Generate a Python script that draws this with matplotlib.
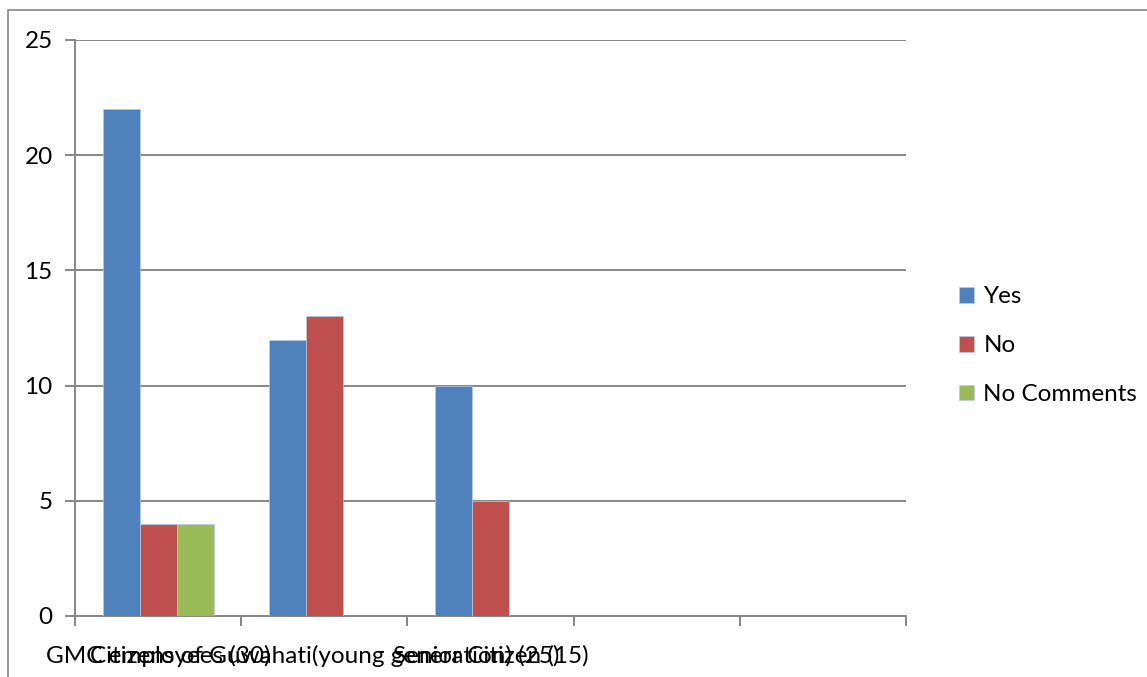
import matplotlib.pyplot as plt
import numpy as np
from matplotlib.patches import Rectangle

categories = [
    "GMC employees (30)",
    "Citizens of Guwahati(young generation) (25)",
    "Senior Citizen (15)",
    "",
    "",
]
yes = [22, 12, 10, 0, 0]
no = [4, 13, 5, 0, 0]
no_comments = [4, 0, 0, 0, 0]

series = [("Yes", yes, "#4f81bd"), ("No", no, "#c0504d"), ("No Comments", no_comments, "#9bbb59")]

plt.rcParams.update({"font.family": ["Lato", "DejaVu Sans"], "font.size": 17.5})

W, H = 1147, 677
fig = plt.figure(figsize=(W / 100, H / 100), dpi=100)
ax = fig.add_axes([75 / W, 61 / H, 831 / W, 576 / H])

# chart frame around the whole drawing area
fig.add_artist(Rectangle((8 / W, -0.1), 1.2, (H - 10) / H + 0.1, transform=fig.transFigure,
                         fill=False, edgecolor="#868686", linewidth=1.2))

grid_color = "#868686"
x = np.arange(len(categories))
width = 1 / 4.5
for idx, (label, values, color) in enumerate(series):
    ax.bar(x + (idx - 1) * width, values, width, color=color, edgecolor="#b8cce4",
           linewidth=0.5, label=label, zorder=3)

ax.set_xlim(-0.5, len(categories) - 0.5)
ax.set_ylim(0, 25)
ax.set_yticks(range(0, 26, 5))
ax.yaxis.grid(True, color=grid_color, linewidth=1.4, zorder=0)
ax.set_axisbelow(True)

for side in ["top", "right"]:
    ax.spines[side].set_visible(False)
for side in ["left", "bottom"]:
    ax.spines[side].set_color(grid_color)
    ax.spines[side].set_linewidth(1.4)

ax.set_xticks(np.arange(-0.5, len(categories)))
ax.set_xticklabels([])
ax.tick_params(axis="x", direction="out", length=7, color=grid_color, width=1.4)
ax.tick_params(axis="y", direction="out", length=7, color=grid_color, width=1.4, pad=9)
for pos, name in zip(x, categories):
    ax.text(pos, -0.05, name, transform=ax.get_xaxis_transform(), ha="center", va="top")

ax.legend(loc="center left", bbox_to_anchor=(1.064, 0.469), frameon=False, borderpad=0,
          borderaxespad=0, handlelength=0.6, handleheight=0.6, handletextpad=0.4,
          labelspacing=1.15)

fig.savefig("out.png", dpi=100)
